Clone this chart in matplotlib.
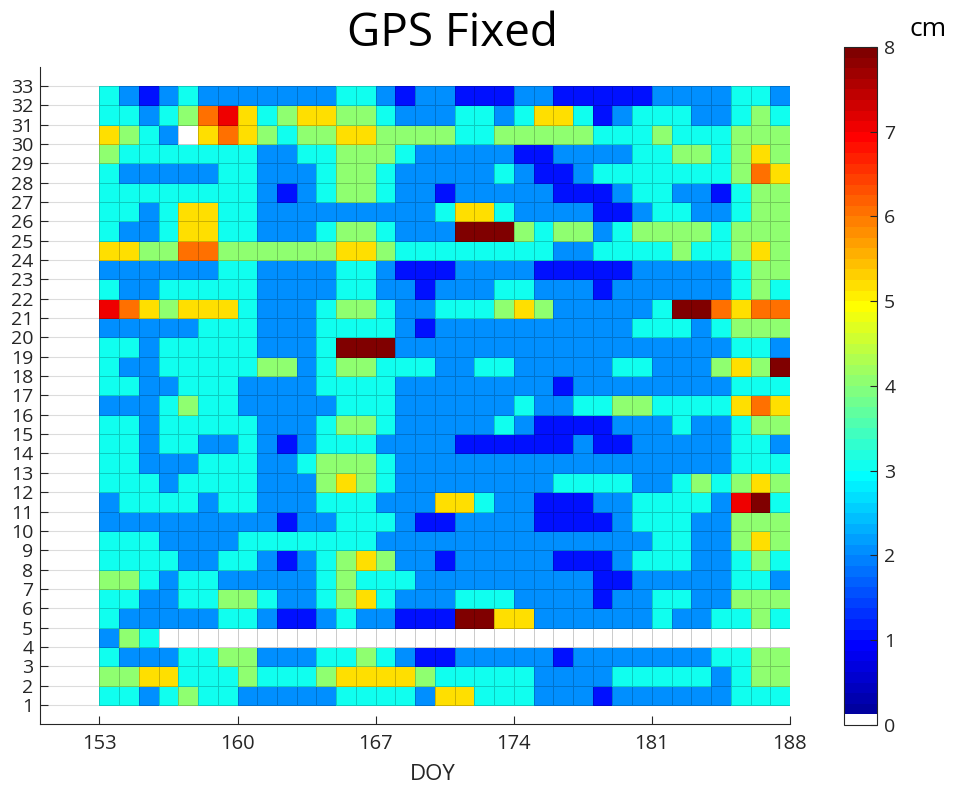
import numpy as np
import matplotlib
matplotlib.use("Agg")
import matplotlib.pyplot as plt
from matplotlib.colors import ListedColormap, Normalize

plt.rcParams['font.family'] = ['Open Sans', 'DejaVu Sans']

# --- data: error in cm, one row per station (top row = 32), one column per DOY ---
doy_edges = np.arange(153, 189)        # 35 days, 153..187
row_edges = np.arange(1, 34)           # 32 rows between gridlines 1..33
x_ticks = [153, 160, 167, 174, 181, 188]
y_ticks = list(range(1, 34))
cbar_ticks = list(range(0, 9))

values_top_down = [
    [3,2,1,2,3,2,2,2,2, 2,2,2,3,3,2,1,2,2, 1,1,1,2,2,1,1,1,1, 1,2,2,2,2,3,3,2],  # 32
    [3,3,2,3,4,6,7,5.2,3, 4,5.2,5.2,4,4,3,2,2,2, 3,3,2,3,5.2,5.2,3,1,2, 3,3,3,2,2,3,4,3],  # 31
    [5.2,4,3,2,0,5.2,6,5.2,4, 3,4,4,5.2,5.2,4,4,4,4, 3,3,4,4,4,4,4,3,3, 3,4,3,3,3,4,4,4],  # 30
    [4,3,3,3,3,3,3,3,2, 2,3,3,4,4,4,3,2,2, 2,2,2,1,1,2,2,2,2, 3,3,4,4,3,4,5.2,4],  # 29
    [3,2,2,2,2,2,3,3,2, 2,2,3,4,4,3,2,2,2, 2,2,3,2,1,1,2,3,3, 3,3,3,3,3,4,6,5.2],  # 28
    [3,3,3,3,3,3,3,3,2, 1,2,3,4,4,3,2,2,1, 2,2,2,2,2,1,1,1,2, 3,3,2,2,1,3,4,4],  # 27
    [3,3,2,3,5.2,5.2,3,3,2, 2,2,2,2,2,2,2,2,3, 5.2,5.2,3,2,2,2,2,1,1, 2,3,3,2,2,3,4,4],  # 26
    [3,2,2,3,5.2,5.2,3,3,2, 2,2,3,4,4,3,2,2,2, 8,8,8,4,3,4,4,2,3, 4,4,4,4,3,4,4,4],  # 25
    [5.2,5.2,4,4,6,6,4,4,4, 4,4,4,5.2,5.2,4,3,3,3, 3,3,3,3,3,2,2,3,3, 3,3,4,3,3,4,5.2,4],  # 24
    [2,2,2,2,2,2,3,3,2, 2,2,2,3,3,2,1,1,1, 2,2,2,2,1,1,1,1,1, 2,2,2,2,2,3,4,4],  # 23
    [3,2,2,3,3,3,3,3,2, 2,2,2,3,3,2,2,1,2, 2,2,3,3,2,2,2,1,2, 2,2,2,2,2,3,4,3],  # 22
    [7,6,5.2,4,5.2,5.2,5.2,3,2, 2,2,3,4,4,3,2,2,3, 3,3,4,5.2,4,2,2,2,2, 2,3,8,8,6,5.2,6,6],  # 21
    [2,2,2,2,2,3,3,3,2, 2,2,3,3,3,3,2,1,2, 2,2,2,2,2,2,2,2,2, 3,3,3,2,3,4,4,4],  # 20
    [3,3,2,3,3,3,3,3,2, 2,2,3,8,8,8,2,2,2, 2,2,2,2,2,2,2,2,2, 2,2,2,2,2,3,3,2],  # 19
    [3,2,2,3,3,3,3,3,4, 4,2,3,4,4,3,3,3,2, 2,3,3,2,2,2,2,2,3, 3,2,2,2,4,5.2,4,8],  # 18
    [3,3,2,2,3,3,3,2,2, 2,2,3,3,3,3,2,2,2, 2,2,2,2,2,1,2,2,2, 2,2,2,2,2,3,3,3],  # 17
    [2,2,2,3,4,3,3,2,2, 2,2,2,3,3,3,2,2,2, 2,2,2,3,2,2,3,3,4, 4,3,3,3,3,5.2,6,5.2],  # 16
    [3,3,2,3,3,3,3,3,2, 2,2,3,4,4,3,2,2,2, 2,2,3,2,1,1,1,1,2, 2,2,3,2,2,3,4,4],  # 15
    [3,3,2,3,3,2,2,3,2, 1,2,3,3,3,2,2,2,2, 1,1,1,1,1,1,2,1,1, 2,2,2,2,2,3,3,2],  # 14
    [3,3,2,2,2,3,3,3,2, 2,3,4,4,4,3,2,2,2, 2,2,2,2,2,2,2,2,2, 2,2,2,2,2,3,3,3],  # 13
    [3,3,3,2,3,3,3,3,2, 2,2,4,5.2,4,3,2,2,2, 2,2,2,2,2,3,3,3,3, 2,2,3,4,3,4,5.2,4],  # 12
    [2,3,3,3,3,2,3,3,2, 2,2,3,3,3,2,2,2,5.2, 5.2,3,2,2,1,1,1,2,2, 3,3,3,3,2,7,8,3],  # 11
    [2,2,2,2,2,2,2,2,2, 1,2,2,3,3,3,2,1,1, 2,2,2,2,1,1,1,1,2, 3,3,3,2,2,4,4,4],  # 10
    [3,3,3,2,2,2,2,3,3, 3,3,3,3,3,2,2,2,2, 2,2,2,2,2,2,2,2,2, 2,3,3,2,2,4,5.2,4],  # 9
    [3,3,3,3,2,2,3,3,2, 1,2,3,4,5.2,4,2,2,1, 2,2,2,2,2,1,1,1,2, 3,3,3,2,2,3,4,3],  # 8
    [4,4,3,2,3,3,2,2,2, 2,2,3,4,3,3,3,2,2, 2,2,2,2,2,2,2,1,1, 2,2,2,2,2,3,3,2],  # 7
    [3,3,2,2,3,3,4,4,3, 2,2,3,4,5.2,3,2,2,2, 3,3,3,2,2,2,2,1,2, 2,3,3,2,2,4,4,4],  # 6
    [3,2,2,2,2,2,3,3,2, 1,1,2,3,2,2,1,1,1, 8,8,5.2,5.2,2,2,2,2,2, 2,3,2,2,3,3,4,3],  # 5
    [2,4,3,0,0,0,0,0,0, 0,0,0,0,0,0,0,0,0, 0,0,0,0,0,0,0,0,0, 0,0,0,0,0,0,0,0],  # 4
    [3,2,2,2,3,3,4,4,2, 2,2,3,3,4,3,2,1,1, 2,2,2,2,2,1,2,2,2, 2,2,2,2,3,3,4,4],  # 3
    [4,4,5.2,5.2,3,3,3,4,3, 3,3,4,5.2,5.2,5.2,5.2,4,3, 3,3,3,3,2,2,2,2,3, 3,3,3,3,2,3,4,4],  # 2
    [3,3,2,3,4,3,3,2,2, 2,2,2,3,3,3,3,2,5.2, 5.2,3,3,3,2,2,2,1,2, 2,2,2,2,2,3,3,3],  # 1
]
values = np.array(values_top_down[::-1], dtype=float)


def matlab_jet(n=64):
    # same construction as MATLAB's jet(n)
    m = int(np.ceil(n / 4))
    u = np.concatenate([np.arange(1, m + 1) / m, np.ones(m - 1), np.arange(m, 0, -1) / m])
    g = int(np.ceil(m / 2)) - (1 if n % 4 == 1 else 0) + np.arange(1, len(u) + 1)
    r = g + m
    b = g - m
    J = np.zeros((n, 4))
    J[:, 3] = 1
    gk = g[g <= n]
    rk = r[r <= n]
    bk = b[b >= 1]
    J[gk - 1, 1] = u[:len(gk)]
    J[rk - 1, 0] = u[:len(rk)]
    J[bk - 1, 2] = u[len(u) - len(bk):]
    return J


# jet with the lowest level shown as white (0 = no data)
jet_colors = matlab_jet(64)
jet_colors[0] = [1, 1, 1, 1]
cmap = ListedColormap(jet_colors)
norm = Normalize(vmin=0, vmax=8)

text_color = '#262626'

fig = plt.figure(figsize=(9.55, 7.87), dpi=100)
ax = fig.add_axes([0.0422, 0.0797, 0.785, 0.8356])

mesh = ax.pcolormesh(doy_edges, row_edges, values, cmap=cmap, norm=norm,
                     edgecolors=(0, 0, 0, 0.2), linewidth=0.6, zorder=2)

ax.set_xlim(150, 188)
ax.set_ylim(0, 34)
ax.set_xticks(x_ticks)
ax.set_yticks(y_ticks)
ax.tick_params(direction='in', length=6, width=0.8, colors=text_color)
ax.tick_params(axis='x', pad=7, labelsize=14.5)
ax.tick_params(axis='y', pad=5, labelsize=14)

# light horizontal grid like MATLAB's "grid on"
ax.yaxis.grid(True, color='#dcdcdc', linewidth=0.8, zorder=0)
ax.set_axisbelow(True)

for side in ['top', 'right']:
    ax.spines[side].set_visible(False)
for side in ['left', 'bottom']:
    ax.spines[side].set_color(text_color)
    ax.spines[side].set_linewidth(0.8)

fig.text(0.453, 0.016, 'DOY', ha='center', va='center', fontsize=16, color=text_color)
fig.text(0.474, 0.957, 'GPS Fixed', ha='center', va='center', fontsize=33, color='black')

# colorbar
cax = fig.add_axes([0.884, 0.0788, 0.0346, 0.8615])
cb = fig.colorbar(mesh, cax=cax, ticks=cbar_ticks)
cb.outline.set_edgecolor(text_color)
cb.outline.set_linewidth(0.8)
cax.tick_params(direction='in', length=5, width=0.8, colors=text_color, labelsize=14, pad=5)
fig.text(0.972, 0.962, 'cm', ha='center', va='center', fontsize=19, color='black')

fig.savefig('out.png', dpi=100)
